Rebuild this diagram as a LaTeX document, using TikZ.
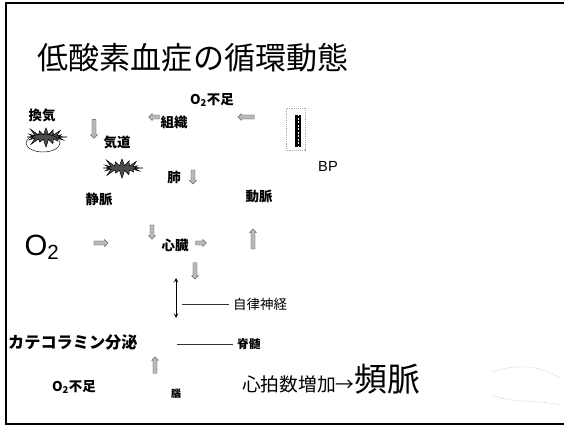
\documentclass[tikz,border=0pt]{standalone}
\usepackage{fontspec}
\setmainfont{Noto Sans CJK JP}
\newfontfamily\latinsans{Liberation Sans}
\usetikzlibrary{shapes.symbols,shapes.arrows}
\begin{document}
\begin{tikzpicture}
		[	x=0.03cm,y=-0.03cm,
		lbl/.style={inner sep=0pt,font=\fontsize{11.5}{12}\selectfont\bfseries},
		blip/.style={single arrow,draw=black!70,fill=gray!55,line width=0.3pt,inner sep=1.2pt,
			minimum width=6pt,single arrow head extend=1pt,single arrow head indent=0pt},
		burst/.style={starburst,starburst points=16,starburst point height=8pt,
			draw=black,fill=black!70,minimum width=1.35cm,minimum height=0.7cm,inner sep=0pt},
		wire/.style={draw=black!80,line width=0.5pt}
		]
		\useasboundingbox (0,0) rectangle (564,429);
		\draw[line width=1pt] (564,3) -- (6,3) -- (6,424) -- (564,424);

		\node[inner sep=0pt,font=\fontsize{26.5}{28}\selectfont] (title) at (193,58){低酸素血症の循環動態};

		\node[lbl] (o2top) at (212,100){O\textsubscript{2}不足};
		\node[lbl] (kanki) at (42,115){換気};
		\node[lbl] (kido) at (117,142){気道};
		\node[lbl] (soshiki) at (174,122){組織};
		\node[lbl] (hai) at (174,177){肺};
		\node[lbl] (jomyaku) at (99,199){静脈};
		\node[lbl] (domyaku) at (259,196){動脈};
		\node[inner sep=0pt,font=\latinsans\fontsize{12.5}{13}\selectfont] (bp) at (328,166){BP};
		\node[inner sep=0pt,font=\latinsans\fontsize{25}{26}\selectfont] (o2) at (42,247){O\textsubscript{2}};
		\node[lbl] (shinzo) at (175,245){心臓};
		\node[inner sep=0pt,font=\fontsize{11.5}{12}\selectfont,anchor=west] (jiritsu) at (233,304){自律神経};
		\node[lbl,anchor=west,font=\fontsize{10}{11}\selectfont\bfseries] (sekizui) at (237,344){脊髄};
		\node[lbl,anchor=west,font=\fontsize{13.8}{14}\selectfont\bfseries] (catechol) at (8,342){カテコラミン分泌};
		\node[lbl] (o2low) at (74,387){O\textsubscript{2}不足};
		\node[lbl,font=\fontsize{8.5}{9}\selectfont\bfseries] (no) at (176,394){腦};
		\node[inner sep=0pt,anchor=base west] (hinmyaku) at (242,391)
			{\fontsize{16}{17}\selectfont 心拍数増加→\fontsize{28}{30}\selectfont 頻脈};

		\node[burst] (burstA) at (46,137){};
		\draw[line width=0.4pt] (43,143) ellipse (17 and 9);
		\node[burst] (burstB) at (122,168){};

		\node[draw=gray!70,densely dotted,line width=0.6pt,minimum width=16pt,minimum height=36pt,inner sep=0pt] (gauge) at (296,129){};
		\node[fill=black,minimum width=5pt,minimum height=28pt,inner sep=0pt] (gaugebar) at (298,131){};
		\draw[white,dash pattern=on 1.5pt off 1.5pt,line width=0.8pt] (gaugebar.north) -- (gaugebar.south);

		\node[blip,minimum height=16pt,rotate=-90] (a1) at (94,128){};
		\node[blip,minimum height=9pt,rotate=180] (a2) at (155,117){};
		\node[blip,minimum height=14pt,rotate=180] (a3) at (247,117){};
		\node[blip,minimum height=12pt,rotate=-90] (a4) at (193,176){};
		\node[blip,minimum height=12pt,rotate=-90] (a5) at (152,231){};
		\node[blip,minimum height=12pt] (a6) at (100,243){};
		\node[blip,minimum height=9pt] (a7) at (200,243){};
		\node[blip,minimum height=17pt,rotate=90] (a8) at (253,240){};
		\node[blip,minimum height=14pt,rotate=-90] (a9) at (195,270){};
		\node[blip,minimum height=14pt,rotate=90] (a10) at (155,366){};

		\coordinate (ntop) at (176,278);
		\coordinate (nbot) at (176,318);
		\draw[<->,>=stealth,line width=0.7pt] (ntop) -- (nbot);
		\coordinate (jirA) at (182,304);
		\draw[wire] (jirA) -- ([xshift=-3pt]jiritsu.west);
		\coordinate (sekA) at (177,344);
		\draw[wire] (sekA) -- ([xshift=-3pt]sekizui.west);

		\draw[gray!45,densely dotted,line width=0.6pt] (492,372) .. controls (520,362) and (545,368) .. (560,378)
			(494,396) .. controls (515,403) and (540,400) .. (560,405);
	\end{tikzpicture}
\end{document}
